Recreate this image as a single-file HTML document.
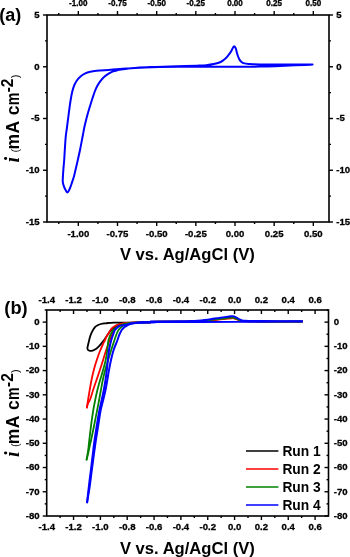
<!DOCTYPE html>
<html><head><meta charset="utf-8"><style>
html,body{margin:0;padding:0;background:#fff;}
body{width:350px;height:557px;overflow:hidden;font-family:"Liberation Sans", sans-serif;}
svg{display:block;will-change:transform;}
</style></head><body>
<svg width="350" height="557" viewBox="0 0 350 557" font-family='"Liberation Sans", sans-serif' font-weight="bold"><rect x="47.00" y="15.00" width="282.00" height="207.00" fill="none" stroke="#000" stroke-width="1.60"/>
<line x1="58.75" y1="222.00" x2="58.75" y2="224.00" stroke="#000" stroke-width="1.40"/>
<line x1="58.75" y1="15.00" x2="58.75" y2="13.00" stroke="#000" stroke-width="1.40"/>
<line x1="78.33" y1="222.00" x2="78.33" y2="226.00" stroke="#000" stroke-width="1.40"/>
<line x1="78.33" y1="15.00" x2="78.33" y2="11.00" stroke="#000" stroke-width="1.40"/>
<text transform="translate(78.33,236.90) scale(1,1.040)" font-size="9.60" text-anchor="middle" stroke="#000" stroke-width="0.3">-1.00</text>
<text transform="translate(78.33,6.00) scale(1,1.040)" font-size="8.10" text-anchor="middle" stroke="#000" stroke-width="0.3">-1.00</text>
<line x1="97.92" y1="222.00" x2="97.92" y2="224.00" stroke="#000" stroke-width="1.40"/>
<line x1="97.92" y1="15.00" x2="97.92" y2="13.00" stroke="#000" stroke-width="1.40"/>
<line x1="117.50" y1="222.00" x2="117.50" y2="226.00" stroke="#000" stroke-width="1.40"/>
<line x1="117.50" y1="15.00" x2="117.50" y2="11.00" stroke="#000" stroke-width="1.40"/>
<text transform="translate(117.50,236.90) scale(1,1.040)" font-size="9.60" text-anchor="middle" stroke="#000" stroke-width="0.3">-0.75</text>
<text transform="translate(117.50,6.00) scale(1,1.040)" font-size="8.10" text-anchor="middle" stroke="#000" stroke-width="0.3">-0.75</text>
<line x1="137.08" y1="222.00" x2="137.08" y2="224.00" stroke="#000" stroke-width="1.40"/>
<line x1="137.08" y1="15.00" x2="137.08" y2="13.00" stroke="#000" stroke-width="1.40"/>
<line x1="156.67" y1="222.00" x2="156.67" y2="226.00" stroke="#000" stroke-width="1.40"/>
<line x1="156.67" y1="15.00" x2="156.67" y2="11.00" stroke="#000" stroke-width="1.40"/>
<text transform="translate(156.67,236.90) scale(1,1.040)" font-size="9.60" text-anchor="middle" stroke="#000" stroke-width="0.3">-0.50</text>
<text transform="translate(156.67,6.00) scale(1,1.040)" font-size="8.10" text-anchor="middle" stroke="#000" stroke-width="0.3">-0.50</text>
<line x1="176.25" y1="222.00" x2="176.25" y2="224.00" stroke="#000" stroke-width="1.40"/>
<line x1="176.25" y1="15.00" x2="176.25" y2="13.00" stroke="#000" stroke-width="1.40"/>
<line x1="195.83" y1="222.00" x2="195.83" y2="226.00" stroke="#000" stroke-width="1.40"/>
<line x1="195.83" y1="15.00" x2="195.83" y2="11.00" stroke="#000" stroke-width="1.40"/>
<text transform="translate(195.83,236.90) scale(1,1.040)" font-size="9.60" text-anchor="middle" stroke="#000" stroke-width="0.3">-0.25</text>
<text transform="translate(195.83,6.00) scale(1,1.040)" font-size="8.10" text-anchor="middle" stroke="#000" stroke-width="0.3">-0.25</text>
<line x1="215.42" y1="222.00" x2="215.42" y2="224.00" stroke="#000" stroke-width="1.40"/>
<line x1="215.42" y1="15.00" x2="215.42" y2="13.00" stroke="#000" stroke-width="1.40"/>
<line x1="235.00" y1="222.00" x2="235.00" y2="226.00" stroke="#000" stroke-width="1.40"/>
<line x1="235.00" y1="15.00" x2="235.00" y2="11.00" stroke="#000" stroke-width="1.40"/>
<text transform="translate(235.00,236.90) scale(1,1.040)" font-size="9.60" text-anchor="middle" stroke="#000" stroke-width="0.3">0.00</text>
<text transform="translate(235.00,6.00) scale(1,1.040)" font-size="8.10" text-anchor="middle" stroke="#000" stroke-width="0.3">0.00</text>
<line x1="254.58" y1="222.00" x2="254.58" y2="224.00" stroke="#000" stroke-width="1.40"/>
<line x1="254.58" y1="15.00" x2="254.58" y2="13.00" stroke="#000" stroke-width="1.40"/>
<line x1="274.17" y1="222.00" x2="274.17" y2="226.00" stroke="#000" stroke-width="1.40"/>
<line x1="274.17" y1="15.00" x2="274.17" y2="11.00" stroke="#000" stroke-width="1.40"/>
<text transform="translate(274.17,236.90) scale(1,1.040)" font-size="9.60" text-anchor="middle" stroke="#000" stroke-width="0.3">0.25</text>
<text transform="translate(274.17,6.00) scale(1,1.040)" font-size="8.10" text-anchor="middle" stroke="#000" stroke-width="0.3">0.25</text>
<line x1="293.75" y1="222.00" x2="293.75" y2="224.00" stroke="#000" stroke-width="1.40"/>
<line x1="293.75" y1="15.00" x2="293.75" y2="13.00" stroke="#000" stroke-width="1.40"/>
<line x1="313.33" y1="222.00" x2="313.33" y2="226.00" stroke="#000" stroke-width="1.40"/>
<line x1="313.33" y1="15.00" x2="313.33" y2="11.00" stroke="#000" stroke-width="1.40"/>
<text transform="translate(313.33,236.90) scale(1,1.040)" font-size="9.60" text-anchor="middle" stroke="#000" stroke-width="0.3">0.50</text>
<text transform="translate(313.33,6.00) scale(1,1.040)" font-size="8.10" text-anchor="middle" stroke="#000" stroke-width="0.3">0.50</text>
<line x1="47.00" y1="222.00" x2="43.00" y2="222.00" stroke="#000" stroke-width="1.40"/>
<line x1="329.00" y1="222.00" x2="333.00" y2="222.00" stroke="#000" stroke-width="1.40"/>
<text transform="translate(39.60,224.80) scale(1,1.040)" font-size="9.60" text-anchor="end" stroke="#000" stroke-width="0.3">-15</text>
<text transform="translate(336.30,224.80) scale(1,1.040)" font-size="9.60" text-anchor="start" stroke="#000" stroke-width="0.3">-15</text>
<line x1="47.00" y1="196.12" x2="45.00" y2="196.12" stroke="#000" stroke-width="1.40"/>
<line x1="329.00" y1="196.12" x2="331.00" y2="196.12" stroke="#000" stroke-width="1.40"/>
<line x1="47.00" y1="170.25" x2="43.00" y2="170.25" stroke="#000" stroke-width="1.40"/>
<line x1="329.00" y1="170.25" x2="333.00" y2="170.25" stroke="#000" stroke-width="1.40"/>
<text transform="translate(39.60,173.05) scale(1,1.040)" font-size="9.60" text-anchor="end" stroke="#000" stroke-width="0.3">-10</text>
<text transform="translate(336.30,173.05) scale(1,1.040)" font-size="9.60" text-anchor="start" stroke="#000" stroke-width="0.3">-10</text>
<line x1="47.00" y1="144.38" x2="45.00" y2="144.38" stroke="#000" stroke-width="1.40"/>
<line x1="329.00" y1="144.38" x2="331.00" y2="144.38" stroke="#000" stroke-width="1.40"/>
<line x1="47.00" y1="118.50" x2="43.00" y2="118.50" stroke="#000" stroke-width="1.40"/>
<line x1="329.00" y1="118.50" x2="333.00" y2="118.50" stroke="#000" stroke-width="1.40"/>
<text transform="translate(39.60,121.30) scale(1,1.040)" font-size="9.60" text-anchor="end" stroke="#000" stroke-width="0.3">-5</text>
<text transform="translate(336.30,121.30) scale(1,1.040)" font-size="9.60" text-anchor="start" stroke="#000" stroke-width="0.3">-5</text>
<line x1="47.00" y1="92.62" x2="45.00" y2="92.62" stroke="#000" stroke-width="1.40"/>
<line x1="329.00" y1="92.62" x2="331.00" y2="92.62" stroke="#000" stroke-width="1.40"/>
<line x1="47.00" y1="66.75" x2="43.00" y2="66.75" stroke="#000" stroke-width="1.40"/>
<line x1="329.00" y1="66.75" x2="333.00" y2="66.75" stroke="#000" stroke-width="1.40"/>
<text transform="translate(39.60,69.55) scale(1,1.040)" font-size="9.60" text-anchor="end" stroke="#000" stroke-width="0.3">0</text>
<text transform="translate(336.30,69.55) scale(1,1.040)" font-size="9.60" text-anchor="start" stroke="#000" stroke-width="0.3">0</text>
<line x1="47.00" y1="40.88" x2="45.00" y2="40.88" stroke="#000" stroke-width="1.40"/>
<line x1="329.00" y1="40.88" x2="331.00" y2="40.88" stroke="#000" stroke-width="1.40"/>
<line x1="47.00" y1="15.00" x2="43.00" y2="15.00" stroke="#000" stroke-width="1.40"/>
<line x1="329.00" y1="15.00" x2="333.00" y2="15.00" stroke="#000" stroke-width="1.40"/>
<text transform="translate(39.60,17.80) scale(1,1.040)" font-size="9.60" text-anchor="end" stroke="#000" stroke-width="0.3">5</text>
<text transform="translate(336.30,17.80) scale(1,1.040)" font-size="9.60" text-anchor="start" stroke="#000" stroke-width="0.3">5</text>
<path d="M312.60,64.50 C310.07,64.63 307.96,64.75 305.00,64.90 C300.84,65.11 295.00,65.38 290.00,65.60 C285.00,65.82 280.00,66.03 275.00,66.20 C270.00,66.37 265.36,66.52 260.00,66.60 C253.81,66.70 247.34,66.68 240.00,66.70 C231.01,66.72 219.54,66.68 210.00,66.70 C201.29,66.72 193.33,66.75 185.00,66.80 C176.67,66.85 167.27,66.85 160.00,67.00 C154.36,67.12 149.49,67.29 145.00,67.50 C141.33,67.67 138.15,67.87 135.00,68.10 C132.18,68.31 129.47,68.55 127.00,68.80 C124.85,69.02 122.70,69.25 121.00,69.50 C119.73,69.69 118.88,69.83 117.70,70.10 C116.29,70.43 114.60,70.81 113.10,71.40 C111.56,72.00 110.07,72.79 108.60,73.70 C107.03,74.67 105.41,75.79 104.00,77.10 C102.54,78.45 101.17,80.12 100.00,81.70 C98.89,83.19 97.98,84.65 97.10,86.30 C96.16,88.07 95.37,90.02 94.60,92.00 C93.79,94.08 93.12,96.29 92.40,98.50 C91.65,100.79 90.92,103.16 90.20,105.50 C89.48,107.83 88.77,110.16 88.10,112.50 C87.43,114.83 86.81,117.12 86.20,119.50 C85.57,121.95 84.96,124.38 84.40,127.00 C83.79,129.86 83.34,132.67 82.70,136.00 C81.91,140.15 80.88,145.73 80.00,150.00 C79.25,153.62 78.55,156.67 77.80,160.00 C77.05,163.34 76.22,166.97 75.50,170.00 C74.90,172.54 74.42,174.83 73.80,177.00 C73.25,178.93 72.56,180.71 72.00,182.40 C71.50,183.89 71.09,185.28 70.60,186.60 C70.15,187.80 69.75,188.98 69.20,190.00 C68.70,190.93 68.09,192.48 67.50,192.50 C66.89,192.52 66.17,190.94 65.60,190.00 C64.96,188.94 64.36,187.68 63.90,186.40 C63.41,185.05 62.98,183.79 62.80,182.10 C62.55,179.76 62.96,176.14 63.10,173.60 C63.21,171.54 63.34,170.03 63.50,168.00 C63.69,165.57 63.99,162.82 64.20,160.00 C64.43,156.85 64.56,153.61 64.80,150.00 C65.08,145.72 65.38,140.01 65.80,136.00 C66.12,132.96 66.52,130.82 66.90,128.00 C67.32,124.83 67.75,121.38 68.20,117.90 C68.68,114.19 69.21,109.87 69.70,106.40 C70.11,103.52 70.45,101.05 70.90,98.50 C71.32,96.09 71.74,93.72 72.30,91.50 C72.82,89.44 73.34,87.44 74.10,85.60 C74.82,83.85 75.65,82.22 76.70,80.70 C77.77,79.15 79.06,77.62 80.50,76.40 C81.93,75.19 83.63,74.17 85.30,73.40 C86.90,72.66 88.52,72.22 90.30,71.80 C92.26,71.33 94.16,71.08 96.60,70.80 C99.95,70.41 104.65,70.19 108.60,69.90 C112.45,69.62 115.94,69.40 120.00,69.10 C124.66,68.75 130.00,68.25 135.00,67.90 C140.00,67.55 144.64,67.23 150.00,67.00 C156.19,66.74 163.81,66.66 170.00,66.50 C175.36,66.36 180.28,66.24 185.00,66.10 C189.22,65.97 193.24,65.86 197.00,65.70 C200.33,65.56 203.48,65.50 206.40,65.20 C208.97,64.94 211.23,64.63 213.60,64.10 C215.99,63.57 218.67,62.99 220.70,62.00 C222.45,61.15 223.89,59.98 225.20,58.80 C226.43,57.70 227.40,56.46 228.40,55.20 C229.40,53.93 230.43,52.49 231.20,51.20 C231.86,50.10 232.25,48.88 232.80,48.00 C233.22,47.32 233.64,46.32 234.10,46.30 C234.57,46.28 235.20,47.26 235.60,48.00 C236.14,49.01 236.32,50.67 236.70,52.00 C237.08,53.34 237.42,54.72 237.90,56.00 C238.36,57.25 238.85,58.56 239.50,59.60 C240.08,60.53 240.69,61.37 241.50,62.00 C242.32,62.64 243.24,63.07 244.40,63.40 C245.93,63.84 247.86,63.84 250.00,64.00 C252.85,64.21 256.33,64.30 260.00,64.40 C264.49,64.52 270.00,64.57 275.00,64.60 C280.00,64.63 284.49,64.61 290.00,64.60 C296.76,64.59 305.07,64.53 312.60,64.50" fill="none" stroke="#0000ff" stroke-width="2.0" stroke-linejoin="round" stroke-linecap="round"/>
<text x="-0.80" y="20.60" font-size="18.00" text-anchor="start" >(a)</text>
<text x="119.90" y="260.00" font-size="16.60" text-anchor="start" >V vs. Ag/AgCl (V)</text>
<g transform="translate(18.80,162.50) rotate(-90)"><text x="0" y="0" font-family='"Liberation Serif", serif' font-style="italic" font-size="20.5">i</text><text x="10.1" y="0" font-weight="normal" font-size="11">(</text><text x="12.9" y="0" font-size="17.5">m</text><text x="28.9" y="0" font-size="17.5">A</text><text x="47.2" y="0" font-size="17.5">c</text><text x="57.2" y="0" font-size="17.5" textLength="12.6" lengthAdjust="spacingAndGlyphs">m</text><text transform="translate(70.2,-6.2) scale(1,1.12)" font-size="15.5">-2</text><text x="84.2" y="0" font-weight="normal" font-size="11">)</text></g>
<rect x="46.70" y="310.00" width="281.80" height="206.00" fill="none" stroke="#000" stroke-width="1.60"/>
<text transform="translate(46.70,530.30) scale(1,1.040)" font-size="9.60" text-anchor="middle" stroke="#000" stroke-width="0.3">-1.4</text>
<text transform="translate(46.70,302.60) scale(1,1.040)" font-size="9.60" text-anchor="middle" stroke="#000" stroke-width="0.3">-1.4</text>
<line x1="60.12" y1="516.00" x2="60.12" y2="518.00" stroke="#000" stroke-width="1.40"/>
<line x1="60.12" y1="310.00" x2="60.12" y2="312.00" stroke="#000" stroke-width="1.40"/>
<line x1="73.54" y1="516.00" x2="73.54" y2="520.00" stroke="#000" stroke-width="1.40"/>
<line x1="73.54" y1="310.00" x2="73.54" y2="314.00" stroke="#000" stroke-width="1.40"/>
<text transform="translate(73.54,530.30) scale(1,1.040)" font-size="9.60" text-anchor="middle" stroke="#000" stroke-width="0.3">-1.2</text>
<text transform="translate(73.54,302.60) scale(1,1.040)" font-size="9.60" text-anchor="middle" stroke="#000" stroke-width="0.3">-1.2</text>
<line x1="86.96" y1="516.00" x2="86.96" y2="518.00" stroke="#000" stroke-width="1.40"/>
<line x1="86.96" y1="310.00" x2="86.96" y2="312.00" stroke="#000" stroke-width="1.40"/>
<line x1="100.38" y1="516.00" x2="100.38" y2="520.00" stroke="#000" stroke-width="1.40"/>
<line x1="100.38" y1="310.00" x2="100.38" y2="314.00" stroke="#000" stroke-width="1.40"/>
<text transform="translate(100.38,530.30) scale(1,1.040)" font-size="9.60" text-anchor="middle" stroke="#000" stroke-width="0.3">-1.0</text>
<text transform="translate(100.38,302.60) scale(1,1.040)" font-size="9.60" text-anchor="middle" stroke="#000" stroke-width="0.3">-1.0</text>
<line x1="113.80" y1="516.00" x2="113.80" y2="518.00" stroke="#000" stroke-width="1.40"/>
<line x1="113.80" y1="310.00" x2="113.80" y2="312.00" stroke="#000" stroke-width="1.40"/>
<line x1="127.21" y1="516.00" x2="127.21" y2="520.00" stroke="#000" stroke-width="1.40"/>
<line x1="127.21" y1="310.00" x2="127.21" y2="314.00" stroke="#000" stroke-width="1.40"/>
<text transform="translate(127.21,530.30) scale(1,1.040)" font-size="9.60" text-anchor="middle" stroke="#000" stroke-width="0.3">-0.8</text>
<text transform="translate(127.21,302.60) scale(1,1.040)" font-size="9.60" text-anchor="middle" stroke="#000" stroke-width="0.3">-0.8</text>
<line x1="140.63" y1="516.00" x2="140.63" y2="518.00" stroke="#000" stroke-width="1.40"/>
<line x1="140.63" y1="310.00" x2="140.63" y2="312.00" stroke="#000" stroke-width="1.40"/>
<line x1="154.05" y1="516.00" x2="154.05" y2="520.00" stroke="#000" stroke-width="1.40"/>
<line x1="154.05" y1="310.00" x2="154.05" y2="314.00" stroke="#000" stroke-width="1.40"/>
<text transform="translate(154.05,530.30) scale(1,1.040)" font-size="9.60" text-anchor="middle" stroke="#000" stroke-width="0.3">-0.6</text>
<text transform="translate(154.05,302.60) scale(1,1.040)" font-size="9.60" text-anchor="middle" stroke="#000" stroke-width="0.3">-0.6</text>
<line x1="167.47" y1="516.00" x2="167.47" y2="518.00" stroke="#000" stroke-width="1.40"/>
<line x1="167.47" y1="310.00" x2="167.47" y2="312.00" stroke="#000" stroke-width="1.40"/>
<line x1="180.89" y1="516.00" x2="180.89" y2="520.00" stroke="#000" stroke-width="1.40"/>
<line x1="180.89" y1="310.00" x2="180.89" y2="314.00" stroke="#000" stroke-width="1.40"/>
<text transform="translate(180.89,530.30) scale(1,1.040)" font-size="9.60" text-anchor="middle" stroke="#000" stroke-width="0.3">-0.4</text>
<text transform="translate(180.89,302.60) scale(1,1.040)" font-size="9.60" text-anchor="middle" stroke="#000" stroke-width="0.3">-0.4</text>
<line x1="194.31" y1="516.00" x2="194.31" y2="518.00" stroke="#000" stroke-width="1.40"/>
<line x1="194.31" y1="310.00" x2="194.31" y2="312.00" stroke="#000" stroke-width="1.40"/>
<line x1="207.73" y1="516.00" x2="207.73" y2="520.00" stroke="#000" stroke-width="1.40"/>
<line x1="207.73" y1="310.00" x2="207.73" y2="314.00" stroke="#000" stroke-width="1.40"/>
<text transform="translate(207.73,530.30) scale(1,1.040)" font-size="9.60" text-anchor="middle" stroke="#000" stroke-width="0.3">-0.2</text>
<text transform="translate(207.73,302.60) scale(1,1.040)" font-size="9.60" text-anchor="middle" stroke="#000" stroke-width="0.3">-0.2</text>
<line x1="221.15" y1="516.00" x2="221.15" y2="518.00" stroke="#000" stroke-width="1.40"/>
<line x1="221.15" y1="310.00" x2="221.15" y2="312.00" stroke="#000" stroke-width="1.40"/>
<line x1="234.57" y1="516.00" x2="234.57" y2="520.00" stroke="#000" stroke-width="1.40"/>
<line x1="234.57" y1="310.00" x2="234.57" y2="314.00" stroke="#000" stroke-width="1.40"/>
<text transform="translate(234.57,530.30) scale(1,1.040)" font-size="9.60" text-anchor="middle" stroke="#000" stroke-width="0.3">0.0</text>
<text transform="translate(234.57,302.60) scale(1,1.040)" font-size="9.60" text-anchor="middle" stroke="#000" stroke-width="0.3">0.0</text>
<line x1="247.99" y1="516.00" x2="247.99" y2="518.00" stroke="#000" stroke-width="1.40"/>
<line x1="247.99" y1="310.00" x2="247.99" y2="312.00" stroke="#000" stroke-width="1.40"/>
<line x1="261.40" y1="516.00" x2="261.40" y2="520.00" stroke="#000" stroke-width="1.40"/>
<line x1="261.40" y1="310.00" x2="261.40" y2="314.00" stroke="#000" stroke-width="1.40"/>
<text transform="translate(261.40,530.30) scale(1,1.040)" font-size="9.60" text-anchor="middle" stroke="#000" stroke-width="0.3">0.2</text>
<text transform="translate(261.40,302.60) scale(1,1.040)" font-size="9.60" text-anchor="middle" stroke="#000" stroke-width="0.3">0.2</text>
<line x1="274.82" y1="516.00" x2="274.82" y2="518.00" stroke="#000" stroke-width="1.40"/>
<line x1="274.82" y1="310.00" x2="274.82" y2="312.00" stroke="#000" stroke-width="1.40"/>
<line x1="288.24" y1="516.00" x2="288.24" y2="520.00" stroke="#000" stroke-width="1.40"/>
<line x1="288.24" y1="310.00" x2="288.24" y2="314.00" stroke="#000" stroke-width="1.40"/>
<text transform="translate(288.24,530.30) scale(1,1.040)" font-size="9.60" text-anchor="middle" stroke="#000" stroke-width="0.3">0.4</text>
<text transform="translate(288.24,302.60) scale(1,1.040)" font-size="9.60" text-anchor="middle" stroke="#000" stroke-width="0.3">0.4</text>
<line x1="301.66" y1="516.00" x2="301.66" y2="518.00" stroke="#000" stroke-width="1.40"/>
<line x1="301.66" y1="310.00" x2="301.66" y2="312.00" stroke="#000" stroke-width="1.40"/>
<line x1="315.08" y1="516.00" x2="315.08" y2="520.00" stroke="#000" stroke-width="1.40"/>
<line x1="315.08" y1="310.00" x2="315.08" y2="314.00" stroke="#000" stroke-width="1.40"/>
<text transform="translate(315.08,530.30) scale(1,1.040)" font-size="9.60" text-anchor="middle" stroke="#000" stroke-width="0.3">0.6</text>
<text transform="translate(315.08,302.60) scale(1,1.040)" font-size="9.60" text-anchor="middle" stroke="#000" stroke-width="0.3">0.6</text>
<line x1="46.70" y1="516.00" x2="42.70" y2="516.00" stroke="#000" stroke-width="1.40"/>
<line x1="328.50" y1="516.00" x2="324.50" y2="516.00" stroke="#000" stroke-width="1.40"/>
<text transform="translate(39.70,518.80) scale(1,1.040)" font-size="9.60" text-anchor="end" stroke="#000" stroke-width="0.3">-80</text>
<text transform="translate(333.80,518.80) scale(1,1.040)" font-size="9.60" text-anchor="start" stroke="#000" stroke-width="0.3">-80</text>
<line x1="46.70" y1="503.88" x2="44.70" y2="503.88" stroke="#000" stroke-width="1.40"/>
<line x1="328.50" y1="503.88" x2="326.50" y2="503.88" stroke="#000" stroke-width="1.40"/>
<line x1="46.70" y1="491.76" x2="42.70" y2="491.76" stroke="#000" stroke-width="1.40"/>
<line x1="328.50" y1="491.76" x2="324.50" y2="491.76" stroke="#000" stroke-width="1.40"/>
<text transform="translate(39.70,494.56) scale(1,1.040)" font-size="9.60" text-anchor="end" stroke="#000" stroke-width="0.3">-70</text>
<text transform="translate(333.80,494.56) scale(1,1.040)" font-size="9.60" text-anchor="start" stroke="#000" stroke-width="0.3">-70</text>
<line x1="46.70" y1="479.65" x2="44.70" y2="479.65" stroke="#000" stroke-width="1.40"/>
<line x1="328.50" y1="479.65" x2="326.50" y2="479.65" stroke="#000" stroke-width="1.40"/>
<line x1="46.70" y1="467.53" x2="42.70" y2="467.53" stroke="#000" stroke-width="1.40"/>
<line x1="328.50" y1="467.53" x2="324.50" y2="467.53" stroke="#000" stroke-width="1.40"/>
<text transform="translate(39.70,470.33) scale(1,1.040)" font-size="9.60" text-anchor="end" stroke="#000" stroke-width="0.3">-60</text>
<text transform="translate(333.80,470.33) scale(1,1.040)" font-size="9.60" text-anchor="start" stroke="#000" stroke-width="0.3">-60</text>
<line x1="46.70" y1="455.41" x2="44.70" y2="455.41" stroke="#000" stroke-width="1.40"/>
<line x1="328.50" y1="455.41" x2="326.50" y2="455.41" stroke="#000" stroke-width="1.40"/>
<line x1="46.70" y1="443.29" x2="42.70" y2="443.29" stroke="#000" stroke-width="1.40"/>
<line x1="328.50" y1="443.29" x2="324.50" y2="443.29" stroke="#000" stroke-width="1.40"/>
<text transform="translate(39.70,446.09) scale(1,1.040)" font-size="9.60" text-anchor="end" stroke="#000" stroke-width="0.3">-50</text>
<text transform="translate(333.80,446.09) scale(1,1.040)" font-size="9.60" text-anchor="start" stroke="#000" stroke-width="0.3">-50</text>
<line x1="46.70" y1="431.18" x2="44.70" y2="431.18" stroke="#000" stroke-width="1.40"/>
<line x1="328.50" y1="431.18" x2="326.50" y2="431.18" stroke="#000" stroke-width="1.40"/>
<line x1="46.70" y1="419.06" x2="42.70" y2="419.06" stroke="#000" stroke-width="1.40"/>
<line x1="328.50" y1="419.06" x2="324.50" y2="419.06" stroke="#000" stroke-width="1.40"/>
<text transform="translate(39.70,421.86) scale(1,1.040)" font-size="9.60" text-anchor="end" stroke="#000" stroke-width="0.3">-40</text>
<text transform="translate(333.80,421.86) scale(1,1.040)" font-size="9.60" text-anchor="start" stroke="#000" stroke-width="0.3">-40</text>
<line x1="46.70" y1="406.94" x2="44.70" y2="406.94" stroke="#000" stroke-width="1.40"/>
<line x1="328.50" y1="406.94" x2="326.50" y2="406.94" stroke="#000" stroke-width="1.40"/>
<line x1="46.70" y1="394.82" x2="42.70" y2="394.82" stroke="#000" stroke-width="1.40"/>
<line x1="328.50" y1="394.82" x2="324.50" y2="394.82" stroke="#000" stroke-width="1.40"/>
<text transform="translate(39.70,397.62) scale(1,1.040)" font-size="9.60" text-anchor="end" stroke="#000" stroke-width="0.3">-30</text>
<text transform="translate(333.80,397.62) scale(1,1.040)" font-size="9.60" text-anchor="start" stroke="#000" stroke-width="0.3">-30</text>
<line x1="46.70" y1="382.71" x2="44.70" y2="382.71" stroke="#000" stroke-width="1.40"/>
<line x1="328.50" y1="382.71" x2="326.50" y2="382.71" stroke="#000" stroke-width="1.40"/>
<line x1="46.70" y1="370.59" x2="42.70" y2="370.59" stroke="#000" stroke-width="1.40"/>
<line x1="328.50" y1="370.59" x2="324.50" y2="370.59" stroke="#000" stroke-width="1.40"/>
<text transform="translate(39.70,373.39) scale(1,1.040)" font-size="9.60" text-anchor="end" stroke="#000" stroke-width="0.3">-20</text>
<text transform="translate(333.80,373.39) scale(1,1.040)" font-size="9.60" text-anchor="start" stroke="#000" stroke-width="0.3">-20</text>
<line x1="46.70" y1="358.47" x2="44.70" y2="358.47" stroke="#000" stroke-width="1.40"/>
<line x1="328.50" y1="358.47" x2="326.50" y2="358.47" stroke="#000" stroke-width="1.40"/>
<line x1="46.70" y1="346.35" x2="42.70" y2="346.35" stroke="#000" stroke-width="1.40"/>
<line x1="328.50" y1="346.35" x2="324.50" y2="346.35" stroke="#000" stroke-width="1.40"/>
<text transform="translate(39.70,349.15) scale(1,1.040)" font-size="9.60" text-anchor="end" stroke="#000" stroke-width="0.3">-10</text>
<text transform="translate(333.80,349.15) scale(1,1.040)" font-size="9.60" text-anchor="start" stroke="#000" stroke-width="0.3">-10</text>
<line x1="46.70" y1="334.24" x2="44.70" y2="334.24" stroke="#000" stroke-width="1.40"/>
<line x1="328.50" y1="334.24" x2="326.50" y2="334.24" stroke="#000" stroke-width="1.40"/>
<line x1="46.70" y1="322.12" x2="42.70" y2="322.12" stroke="#000" stroke-width="1.40"/>
<line x1="328.50" y1="322.12" x2="324.50" y2="322.12" stroke="#000" stroke-width="1.40"/>
<text transform="translate(39.70,324.92) scale(1,1.040)" font-size="9.60" text-anchor="end" stroke="#000" stroke-width="0.3">0</text>
<text transform="translate(333.80,324.92) scale(1,1.040)" font-size="9.60" text-anchor="start" stroke="#000" stroke-width="0.3">0</text>
<line x1="46.70" y1="310.00" x2="44.70" y2="310.00" stroke="#000" stroke-width="1.40"/>
<line x1="328.50" y1="310.00" x2="326.50" y2="310.00" stroke="#000" stroke-width="1.40"/>
<text x="4.30" y="314.20" font-size="18.30" text-anchor="start" >(b)</text>
<text x="119.90" y="553.80" font-size="16.60" text-anchor="start" >V vs. Ag/AgCl (V)</text>
<g transform="translate(18.80,457.10) rotate(-90)"><text x="0" y="0" font-family='"Liberation Serif", serif' font-style="italic" font-size="20.5">i</text><text x="10.1" y="0" font-weight="normal" font-size="11">(</text><text x="12.9" y="0" font-size="17.5">m</text><text x="28.9" y="0" font-size="17.5">A</text><text x="47.2" y="0" font-size="17.5">c</text><text x="57.2" y="0" font-size="17.5" textLength="12.6" lengthAdjust="spacingAndGlyphs">m</text><text transform="translate(70.2,-6.2) scale(1,1.12)" font-size="15.5">-2</text><text x="84.2" y="0" font-weight="normal" font-size="11">)</text></g>
<line x1="246.00" y1="451.10" x2="278.40" y2="451.10" stroke="#000000" stroke-width="1.50"/>
<text transform="translate(282.40,455.90) scale(1,1.050)" font-size="13.80" text-anchor="start" >Run 1</text>
<line x1="246.00" y1="469.05" x2="278.40" y2="469.05" stroke="#ff0000" stroke-width="1.50"/>
<text transform="translate(282.40,473.85) scale(1,1.050)" font-size="13.80" text-anchor="start" >Run 2</text>
<line x1="246.00" y1="487.00" x2="278.40" y2="487.00" stroke="#008000" stroke-width="1.50"/>
<text transform="translate(282.40,491.80) scale(1,1.050)" font-size="13.80" text-anchor="start" >Run 3</text>
<line x1="246.00" y1="504.95" x2="278.40" y2="504.95" stroke="#0000ff" stroke-width="1.50"/>
<text transform="translate(282.40,509.75) scale(1,1.050)" font-size="13.80" text-anchor="start" >Run 4</text>
<path d="M150.00,322.40 C141.67,322.47 131.72,322.54 125.00,322.60 C120.46,322.64 116.73,322.60 113.60,322.70 C111.40,322.77 109.51,322.87 108.00,323.00 C106.97,323.09 106.37,323.16 105.40,323.30 C104.14,323.47 102.43,323.64 101.10,324.00 C99.88,324.33 98.73,324.77 97.70,325.30 C96.75,325.79 95.86,326.26 95.10,327.00 C94.27,327.80 93.63,328.94 93.00,330.00 C92.36,331.08 91.80,332.24 91.30,333.40 C90.80,334.55 90.39,335.66 90.00,336.90 C89.58,338.27 89.25,339.84 88.90,341.30 C88.55,342.74 88.16,344.32 87.90,345.60 C87.69,346.63 87.30,347.58 87.40,348.40 C87.48,349.08 87.76,349.80 88.20,350.20 C88.63,350.59 89.34,350.72 90.00,350.80 C90.76,350.89 91.68,350.79 92.50,350.60 C93.35,350.40 94.13,350.12 95.00,349.60 C96.14,348.92 97.40,347.79 98.60,346.60 C100.03,345.19 101.58,343.30 102.90,341.60 C104.17,339.96 105.23,338.28 106.40,336.60 C107.59,334.89 108.72,332.91 110.00,331.40 C111.14,330.06 112.29,328.95 113.60,327.90 C114.92,326.84 116.36,325.83 117.90,325.10 C119.46,324.36 121.07,323.89 122.90,323.50 C125.04,323.04 127.43,322.88 130.00,322.70 C133.04,322.48 136.67,322.47 140.00,322.40 C143.33,322.33 146.67,322.33 150.00,322.30" fill="none" stroke="#000000" stroke-width="1.80" stroke-linejoin="round" stroke-linecap="round"/>
<path d="M150.00,321.80 C160.00,321.73 172.06,321.66 180.00,321.60 C185.23,321.56 189.68,321.58 193.00,321.49 C195.06,321.43 196.33,321.35 198.00,321.26 C199.67,321.16 201.33,321.06 203.00,320.91 C204.67,320.77 206.33,320.57 208.00,320.38 C209.67,320.19 211.33,319.96 213.00,319.76 C214.67,319.57 216.33,319.41 218.00,319.23 C219.67,319.05 221.33,318.87 223.00,318.69 C224.67,318.52 226.54,318.31 228.00,318.16 C229.13,318.04 230.10,317.93 231.00,317.85 C231.73,317.79 232.39,317.65 233.00,317.70 C233.54,317.75 233.97,317.92 234.50,318.08 C235.10,318.27 235.80,318.52 236.40,318.77 C236.96,319.01 237.43,319.29 238.00,319.54 C238.62,319.80 239.33,320.07 240.00,320.30 C240.66,320.53 241.26,320.76 242.00,320.91 C242.89,321.09 243.87,321.14 245.00,321.22 C246.45,321.31 248.05,321.33 250.00,321.37 C252.76,321.43 255.56,321.46 260.00,321.49 C268.89,321.54 294.42,321.54 300.00,321.52 C301.48,321.52 301.87,321.51 302.80,321.50" fill="none" stroke="#000000" stroke-width="1.80" stroke-linejoin="round" stroke-linecap="butt"/>
<path d="M150.00,322.40 C146.67,322.40 143.25,322.36 140.00,322.40 C136.92,322.43 133.81,322.41 131.00,322.60 C128.52,322.77 126.19,323.06 124.00,323.40 C122.05,323.71 120.16,323.99 118.50,324.50 C117.04,324.95 115.69,325.47 114.50,326.20 C113.37,326.89 112.34,327.75 111.50,328.70 C110.68,329.62 110.12,330.80 109.50,331.80 C108.93,332.73 108.41,333.67 107.90,334.50 C107.45,335.22 107.03,335.72 106.60,336.50 C106.06,337.49 105.59,338.73 105.00,340.00 C104.29,341.52 103.37,343.33 102.60,345.00 C101.84,346.66 101.09,348.32 100.40,350.00 C99.72,351.66 99.10,353.33 98.50,355.00 C97.90,356.66 97.35,358.33 96.80,360.00 C96.25,361.66 95.70,363.33 95.20,365.00 C94.70,366.66 94.30,368.04 93.80,370.00 C93.10,372.75 92.18,376.66 91.50,380.00 C90.82,383.33 90.26,386.75 89.70,390.00 C89.17,393.08 88.63,396.30 88.20,399.00 C87.85,401.20 87.54,403.43 87.30,405.00 C87.14,406.01 87.03,406.67 86.90,407.50" fill="none" stroke="#ff0000" stroke-width="1.80" stroke-linejoin="round" stroke-linecap="round"/>
<path d="M86.90,407.50 C87.20,406.33 87.35,405.18 87.80,404.00 C88.31,402.68 89.20,401.67 89.90,400.00 C90.97,397.45 92.00,393.33 93.10,390.00 C94.20,386.66 95.37,383.33 96.50,380.00 C97.63,376.67 98.80,373.34 99.90,370.00 C101.00,366.67 102.05,363.34 103.10,360.00 C104.15,356.67 105.09,353.32 106.20,350.00 C107.32,346.65 108.76,342.67 109.80,340.00 C110.51,338.19 111.07,336.95 111.70,335.50 C112.30,334.12 112.78,332.76 113.50,331.50 C114.21,330.26 115.00,329.00 116.00,328.00 C117.00,327.00 118.21,326.20 119.50,325.50 C120.87,324.75 122.36,324.14 124.00,323.70 C125.83,323.20 127.74,323.00 130.00,322.80 C132.90,322.54 136.67,322.57 140.00,322.50 C143.33,322.43 146.67,322.43 150.00,322.40" fill="none" stroke="#ff0000" stroke-width="1.80" stroke-linejoin="round" stroke-linecap="round"/>
<path d="M150.00,321.80 C160.00,321.73 172.06,321.66 180.00,321.60 C185.23,321.56 189.68,321.58 193.00,321.50 C195.06,321.45 196.33,321.38 198.00,321.30 C199.67,321.22 201.33,321.13 203.00,321.00 C204.67,320.87 206.33,320.70 208.00,320.53 C209.67,320.37 211.33,320.17 213.00,320.00 C214.67,319.83 216.33,319.69 218.00,319.53 C219.67,319.38 221.33,319.22 223.00,319.07 C224.67,318.91 226.54,318.73 228.00,318.60 C229.13,318.50 230.10,318.40 231.00,318.33 C231.73,318.28 232.38,318.15 233.00,318.20 C233.54,318.24 233.97,318.39 234.50,318.53 C235.10,318.69 235.80,318.91 236.40,319.13 C236.96,319.34 237.43,319.59 238.00,319.80 C238.63,320.03 239.33,320.27 240.00,320.47 C240.66,320.67 241.26,320.87 242.00,321.00 C242.89,321.16 243.87,321.20 245.00,321.27 C246.45,321.35 248.05,321.36 250.00,321.40 C252.76,321.45 255.56,321.48 260.00,321.50 C268.89,321.55 294.42,321.56 300.00,321.53 C301.48,321.53 301.87,321.51 302.80,321.50" fill="none" stroke="#ff0000" stroke-width="1.80" stroke-linejoin="round" stroke-linecap="butt"/>
<path d="M150.00,322.40 C148.33,322.40 146.95,322.38 145.00,322.40 C142.24,322.43 138.14,322.39 135.00,322.60 C132.18,322.79 129.46,323.06 127.00,323.50 C124.84,323.89 122.81,324.36 121.00,325.00 C119.42,325.56 117.95,326.20 116.70,327.00 C115.58,327.72 114.61,328.62 113.80,329.50 C113.07,330.29 112.55,331.11 112.00,332.00 C111.42,332.94 110.87,333.99 110.40,335.00 C109.94,335.99 109.55,336.99 109.20,338.00 C108.85,338.99 108.56,339.72 108.30,341.00 C107.86,343.18 107.72,346.93 107.30,350.00 C106.86,353.25 106.39,356.68 105.70,360.00 C105.00,363.35 104.03,366.68 103.10,370.00 C102.16,373.34 101.05,376.66 100.10,380.00 C99.15,383.33 98.22,386.66 97.40,390.00 C96.59,393.32 95.88,396.66 95.20,400.00 C94.52,403.33 93.87,406.66 93.30,410.00 C92.73,413.33 92.27,416.66 91.80,420.00 C91.33,423.33 90.92,426.67 90.50,430.00 C90.08,433.33 89.68,436.67 89.30,440.00 C88.92,443.33 88.65,446.70 88.20,450.00 C87.75,453.26 87.13,456.47 86.60,459.70" fill="none" stroke="#008000" stroke-width="1.80" stroke-linejoin="round" stroke-linecap="round"/>
<path d="M86.60,459.70 C87.07,457.80 87.54,456.00 88.00,454.00 C88.51,451.79 88.98,449.33 89.50,447.00 C90.02,444.66 90.50,442.78 91.10,440.00 C91.98,435.95 93.18,430.00 94.20,425.00 C95.22,420.00 96.32,414.50 97.20,410.00 C97.92,406.33 98.48,403.33 99.10,400.00 C99.72,396.67 100.28,393.33 100.90,390.00 C101.52,386.67 102.09,383.32 102.80,380.00 C103.52,376.66 104.30,373.32 105.20,370.00 C106.10,366.65 107.20,363.33 108.20,360.00 C109.20,356.67 110.15,353.33 111.20,350.00 C112.25,346.66 113.58,342.76 114.50,340.00 C115.15,338.05 115.54,336.65 116.20,335.00 C116.87,333.32 117.46,331.49 118.50,330.00 C119.55,328.49 121.03,327.05 122.50,326.00 C123.88,325.01 125.29,324.33 127.00,323.80 C129.03,323.17 131.40,323.02 134.00,322.80 C137.25,322.52 142.05,322.57 145.00,322.50 C146.99,322.45 148.33,322.43 150.00,322.40" fill="none" stroke="#008000" stroke-width="1.80" stroke-linejoin="round" stroke-linecap="round"/>
<path d="M150.00,321.80 C160.00,321.73 172.06,321.66 180.00,321.60 C185.23,321.56 189.68,321.57 193.00,321.48 C195.06,321.42 196.33,321.34 198.00,321.24 C199.67,321.14 201.33,321.03 203.00,320.88 C204.67,320.72 206.33,320.51 208.00,320.31 C209.67,320.11 211.33,319.87 213.00,319.67 C214.67,319.47 216.33,319.30 218.00,319.11 C219.67,318.92 221.33,318.73 223.00,318.55 C224.67,318.36 226.54,318.14 228.00,317.98 C229.13,317.86 230.10,317.75 231.00,317.66 C231.73,317.59 232.39,317.44 233.00,317.50 C233.54,317.55 233.98,317.73 234.50,317.90 C235.10,318.10 235.80,318.36 236.40,318.63 C236.96,318.87 237.43,319.17 238.00,319.43 C238.62,319.71 239.33,319.99 240.00,320.23 C240.66,320.47 241.26,320.72 242.00,320.88 C242.89,321.07 243.87,321.12 245.00,321.20 C246.45,321.30 248.05,321.32 250.00,321.36 C252.76,321.42 255.56,321.45 260.00,321.48 C268.89,321.54 294.42,321.54 300.00,321.52 C301.48,321.52 301.87,321.51 302.80,321.50" fill="none" stroke="#008000" stroke-width="1.80" stroke-linejoin="round" stroke-linecap="butt"/>
<path d="M155.00,322.20 C153.33,322.23 151.95,322.25 150.00,322.30 C147.24,322.37 143.14,322.38 140.00,322.60 C137.18,322.80 134.57,323.08 132.00,323.50 C129.58,323.89 127.24,324.53 125.00,325.00 C122.92,325.43 120.45,325.51 119.00,326.20 C118.01,326.67 117.49,327.36 116.80,328.00 C116.12,328.63 115.46,329.11 114.90,330.00 C114.12,331.24 113.60,333.33 113.00,335.00 C112.40,336.66 111.86,338.03 111.30,340.00 C110.52,342.75 109.57,346.65 109.00,350.00 C108.44,353.32 108.27,356.67 107.90,360.00 C107.53,363.33 107.20,366.67 106.80,370.00 C106.40,373.34 106.00,376.67 105.50,380.00 C105.00,383.34 104.43,386.67 103.80,390.00 C103.17,393.34 102.42,396.67 101.70,400.00 C100.98,403.34 100.22,406.32 99.50,410.00 C98.62,414.49 97.72,420.00 96.90,425.00 C96.08,430.00 95.30,435.00 94.60,440.00 C93.90,445.00 93.32,450.00 92.70,455.00 C92.08,460.00 91.53,464.84 90.90,470.00 C90.23,475.49 89.45,481.48 88.80,487.00 C88.19,492.23 87.67,497.20 87.10,502.30" fill="none" stroke="#0000ff" stroke-width="2.00" stroke-linejoin="round" stroke-linecap="round"/>
<path d="M87.10,502.30 C87.93,497.20 88.83,492.24 89.60,487.00 C90.41,481.49 91.08,475.49 91.80,470.00 C92.48,464.84 93.12,460.00 93.80,455.00 C94.48,450.00 95.15,445.00 95.90,440.00 C96.65,435.00 97.50,430.00 98.30,425.00 C99.10,420.00 99.78,414.48 100.70,410.00 C101.45,406.31 102.40,403.34 103.20,400.00 C104.00,396.67 104.82,393.34 105.50,390.00 C106.18,386.67 106.72,383.33 107.30,380.00 C107.88,376.67 108.38,373.33 109.00,370.00 C109.62,366.66 110.24,363.32 111.00,360.00 C111.77,356.66 112.53,353.30 113.60,350.00 C114.69,346.63 116.49,342.77 117.50,340.00 C118.21,338.06 118.51,336.64 119.20,335.00 C119.91,333.31 120.78,331.33 121.70,330.00 C122.42,328.96 123.17,328.21 124.00,327.50 C124.78,326.83 125.61,326.32 126.50,325.80 C127.44,325.25 128.37,324.73 129.50,324.30 C130.83,323.80 132.27,323.40 134.00,323.10 C136.27,322.70 139.01,322.57 142.00,322.40 C145.81,322.19 150.67,322.20 155.00,322.10" fill="none" stroke="#0000ff" stroke-width="2.00" stroke-linejoin="round" stroke-linecap="round"/>
<path d="M140.00,322.60 C146.67,322.47 152.19,322.30 160.00,322.20 C171.05,322.06 185.92,322.05 200.00,322.00 C215.74,321.94 233.11,321.96 250.00,321.90 C267.36,321.83 285.20,321.70 302.80,321.60" fill="none" stroke="#0000ff" stroke-width="1.80" stroke-linejoin="round" stroke-linecap="butt"/>
<path d="M150.00,321.40 C160.00,321.33 172.06,321.27 180.00,321.20 C185.23,321.15 189.68,321.17 193.00,321.05 C195.06,320.98 196.33,320.87 198.00,320.75 C199.67,320.62 201.34,320.49 203.00,320.30 C204.67,320.11 206.33,319.85 208.00,319.60 C209.67,319.35 211.33,319.05 213.00,318.80 C214.67,318.55 216.33,318.33 218.00,318.10 C219.67,317.87 221.33,317.63 223.00,317.40 C224.67,317.17 226.54,316.90 228.00,316.70 C229.13,316.55 230.10,316.40 231.00,316.30 C231.73,316.21 232.39,316.03 233.00,316.10 C233.54,316.16 233.98,316.39 234.50,316.60 C235.10,316.84 235.80,317.17 236.40,317.50 C236.97,317.81 237.43,318.18 238.00,318.50 C238.62,318.85 239.33,319.20 240.00,319.50 C240.66,319.80 241.25,320.10 242.00,320.30 C242.89,320.53 243.87,320.60 245.00,320.70 C246.45,320.83 248.05,320.85 250.00,320.90 C252.76,320.98 255.56,321.01 260.00,321.05 C268.89,321.12 294.42,321.10 300.00,321.10 C301.48,321.10 301.87,321.10 302.80,321.10" fill="none" stroke="#0000ff" stroke-width="1.90" stroke-linejoin="round" stroke-linecap="butt"/></svg>
</body></html>
